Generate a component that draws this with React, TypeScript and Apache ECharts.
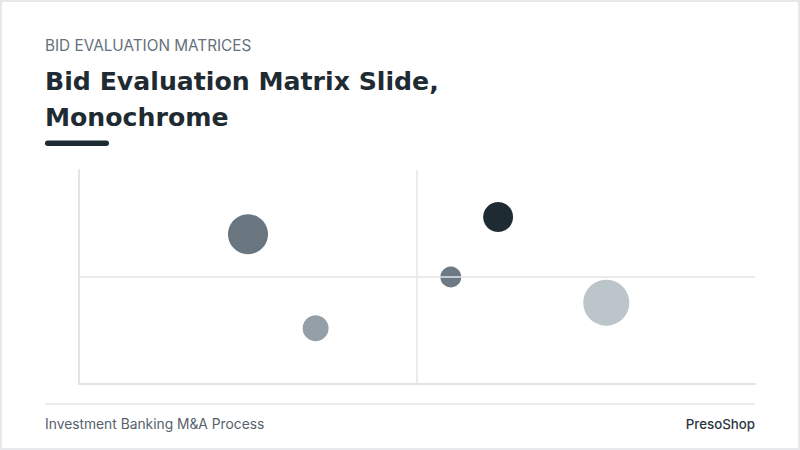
import React, { useEffect, useRef } from "react";
import * as echarts from "echarts";

const bidders = ["Bidder A", "Bidder B", "Bidder C", "Bidder D", "Bidder E"];
const xValues = [25, 35, 62, 55, 78];
const yValues = [70, 26, 78, 50, 38];
const sizes = [40, 26, 30, 21, 46];
const colors = ["#69757f", "#959fa7", "#1f2b33", "#6d7984", "#bcc5ca"];

const kicker = "BID EVALUATION MATRICES";
const titleLines = ["Bid Evaluation Matrix Slide,", "Monochrome"];
const footerLeft = "Investment Banking M&A Process";
const footerRight = "PresoShop";

export default function App() {
  const ref = useRef<HTMLDivElement>(null);
  useEffect(() => {
    if (!ref.current) return;
    const chart = echarts.init(ref.current, undefined, { renderer: "svg" });
    const font = "Inter, 'Open Sans', sans-serif";
    const titleFont = "'DejaVu Sans', Inter, sans-serif";
    const data = bidders.map((name, i) => ({
      name,
      value: [xValues[i], yValues[i], sizes[i]],
      itemStyle: { color: colors[i], opacity: 1 },
    }));
    chart.setOption({
      animation: false,
      backgroundColor: "#ffffff",
      grid: { left: 79, right: 45, top: 170, bottom: 66 },
      xAxis: {
        type: "value",
        min: 0,
        max: 100,
        axisLine: { show: true, lineStyle: { color: "#e2e5e8", width: 2 } },
        axisTick: { show: false },
        axisLabel: { show: false },
        splitLine: { show: false },
      },
      yAxis: {
        type: "value",
        min: 0,
        max: 100,
        axisLine: { show: true, lineStyle: { color: "#e2e5e8", width: 2 } },
        axisTick: { show: false },
        axisLabel: { show: false },
        splitLine: { show: false },
      },
      series: [
        {
          type: "scatter",
          data,
          symbolSize: (v: number[]) => v[2],
          z: 3,
          markLine: {
            silent: true,
            symbol: ["none", "none"],
            label: { show: false },
            lineStyle: { color: "#e2e5e8", width: 1.5, type: "solid" },
            data: [{ xAxis: 50 }, { yAxis: 50 }],
          },
        },
      ],
      graphic: [
        {
          type: "rect",
          shape: { x: 1, y: 1, width: 798, height: 448 },
          style: { fill: "none", stroke: "#e6e8ea", lineWidth: 2 },
          silent: true,
        },
        {
          type: "text",
          x: 45,
          y: 38,
          style: { text: kicker, font: `400 15.3px ${font}`, fill: "#66717b" },
        },
        {
          type: "text",
          x: 45,
          y: 69,
          style: { text: titleLines[0], font: `700 25.2px ${titleFont}`, fill: "#1f2b33" },
        },
        {
          type: "text",
          x: 45,
          y: 105,
          style: { text: titleLines[1], font: `700 25.2px ${titleFont}`, fill: "#1f2b33" },
        },
        {
          type: "rect",
          shape: { x: 45, y: 140.5, width: 64, height: 5.5, r: 2.75 },
          style: { fill: "#1f2b33" },
        },
        {
          type: "line",
          shape: { x1: 45, y1: 404, x2: 755, y2: 404 },
          style: { stroke: "#e4e7e9", lineWidth: 1.5 },
        },
        {
          type: "text",
          x: 45,
          y: 417,
          style: { text: footerLeft, font: `400 13.8px ${font}`, fill: "#56616b" },
        },
        {
          type: "text",
          x: 755,
          y: 417,
          style: { text: footerRight, font: `500 13.3px ${font}`, fill: "#2b353e", align: "right" },
        },
      ],
    });
    return () => chart.dispose();
  }, []);
  return (
    <div
      ref={ref}
      style={{ position: "absolute", left: 0, top: 0, width: 800, height: 450 }}
    />
  );
}
